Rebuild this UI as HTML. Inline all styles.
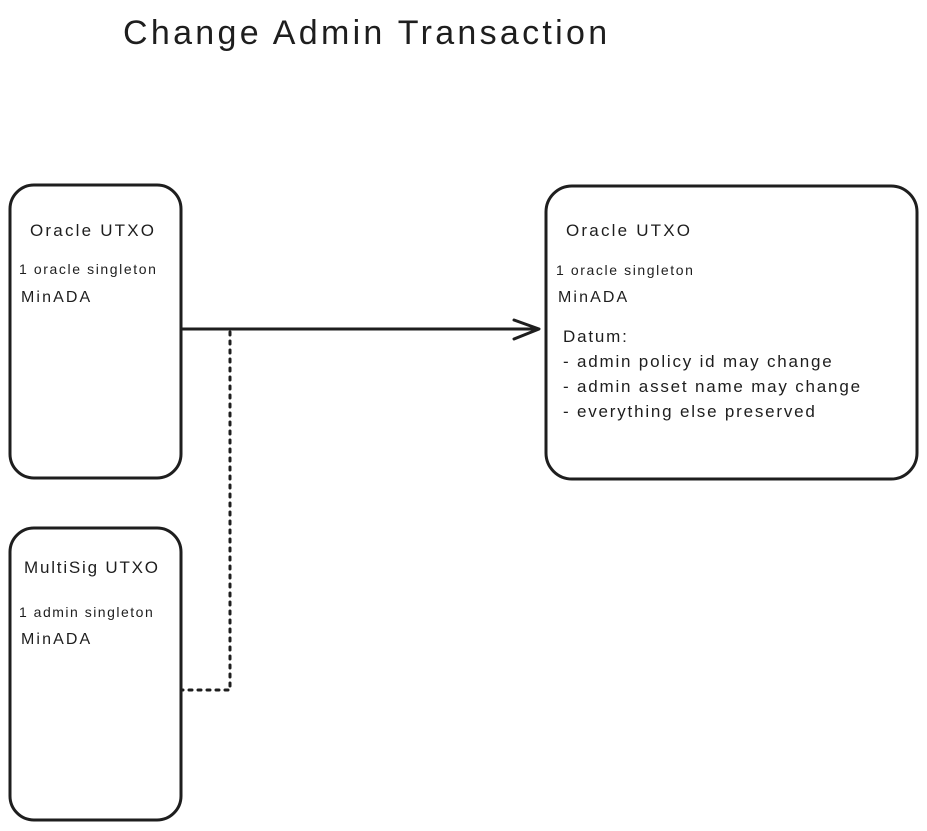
<!DOCTYPE html>
<html><head><meta charset="utf-8"><style>
html,body{margin:0;padding:0;background:#fff;}
body{width:927px;height:831px;position:relative;overflow:hidden;font-family:"Liberation Sans","DejaVu Sans",sans-serif;color:#1e1e1e;}
.t{position:absolute;white-space:nowrap;line-height:1;}
</style></head><body>
<svg width="927" height="831" style="position:absolute;left:0;top:0">
<g fill="none" stroke="#1e1e1e" stroke-width="3" stroke-linecap="round" stroke-linejoin="round">
<rect x="10" y="185" width="171" height="293" rx="24"/>
<rect x="10" y="528" width="171" height="292" rx="24"/>
<rect x="546" y="186" width="371" height="293" rx="26"/>
<line x1="181" y1="329" x2="538" y2="329"/>
<polyline points="514,320 539,329 514,339"/>
<polyline points="230,332 230,690 181,690" stroke-dasharray="3,6" stroke-width="3"/>
</g>
</svg>
<div class="t" style="left:123px;top:16px;font-size:34px;letter-spacing:3.3px;">Change Admin Transaction</div>
<div class="t" style="left:30px;top:222px;font-size:17px;letter-spacing:2.2px;">Oracle UTXO</div>
<div class="t" style="left:19px;top:262px;font-size:14px;letter-spacing:1.6px;">1 oracle singleton</div>
<div class="t" style="left:21px;top:290px;font-size:16px;letter-spacing:2.1px;">MinADA</div>
<div class="t" style="left:566px;top:222px;font-size:17px;letter-spacing:2.2px;">Oracle UTXO</div>
<div class="t" style="left:556px;top:263px;font-size:14px;letter-spacing:1.6px;">1 oracle singleton</div>
<div class="t" style="left:558px;top:290px;font-size:16px;letter-spacing:2.1px;">MinADA</div>
<div class="t" style="left:563px;top:328px;font-size:17px;letter-spacing:1.8px;">Datum:</div>
<div class="t" style="left:563px;top:353px;font-size:17px;letter-spacing:1.8px;">- admin policy id may change</div>
<div class="t" style="left:563px;top:378px;font-size:17px;letter-spacing:1.8px;">- admin asset name may change</div>
<div class="t" style="left:563px;top:403px;font-size:17px;letter-spacing:1.8px;">- everything else preserved</div>
<div class="t" style="left:24px;top:559px;font-size:17px;letter-spacing:1.8px;">MultiSig UTXO</div>
<div class="t" style="left:19px;top:605px;font-size:14px;letter-spacing:1.5px;">1 admin singleton</div>
<div class="t" style="left:21px;top:632px;font-size:16px;letter-spacing:2.1px;">MinADA</div>
</body></html>
